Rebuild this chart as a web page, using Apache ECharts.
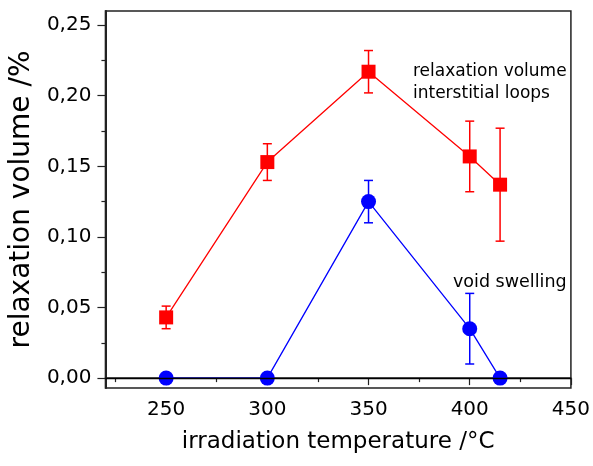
<!DOCTYPE html>
<html><head><meta charset="utf-8">
<script src="https://cdn.jsdelivr.net/npm/echarts@6/dist/echarts.min.js"></script>
<style>html,body{margin:0;padding:0;background:#fff}#c{width:593px;height:466px}</style>
</head><body><div id="c"></div>
<script>
const temps = [250, 300, 350, 400, 415];
const relaxVol = [0.043, 0.153, 0.217, 0.157, 0.137];
const relaxErr = [0.008, 0.013, 0.015, 0.025, 0.040];
const voidSwell = [0, 0, 0.125, 0.035, 0];
const voidErr = [0, 0, 0.015, 0.025, 0];
const yMajorTicks = [0, 0.05, 0.10, 0.15, 0.20, 0.25];
const yMinorTicks = [0.025, 0.075, 0.125, 0.175, 0.225];
const xMajorTicks = [250, 300, 350, 400, 450];
const xMinorTicks = [225, 275, 325, 375, 425];
const xTitle = 'irradiation temperature /°C';
const yTitle = 'relaxation volume /%';
const annRelax = ['relaxation volume', 'interstitial loops'];
const annVoid = 'void swelling';

const FONT = 'DejaVu Sans';
const chart = echarts.init(document.getElementById('c'), null, {renderer: 'canvas'});

function errRender(color) {
  return function (params, api) {
    const x = api.value(0), lo = api.value(1), hi = api.value(2);
    if (hi - lo <= 0) return null;
    const p1 = api.coord([x, hi]), p2 = api.coord([x, lo]);
    const w = 4.5;
    const st = {stroke: color, lineWidth: 1.5};
    return {type: 'group', children: [
      {type: 'line', shape: {x1: p1[0], y1: p1[1], x2: p2[0], y2: p2[1]}, style: st},
      {type: 'line', shape: {x1: p1[0] - w, y1: p1[1], x2: p1[0] + w, y2: p1[1]}, style: st},
      {type: 'line', shape: {x1: p2[0] - w, y1: p2[1], x2: p2[0] + w, y2: p2[1]}, style: st}
    ]};
  };
}

const relaxPts = temps.map((t, i) => [t, relaxVol[i]]);
const voidPts = temps.map((t, i) => [t, voidSwell[i]]);
const relaxErrData = temps.map((t, i) => [t, relaxVol[i] - relaxErr[i], relaxVol[i] + relaxErr[i]]);
const voidErrData = temps.map((t, i) => [t, voidSwell[i] - voidErr[i], voidSwell[i] + voidErr[i]]);

const fmt = v => v.toFixed(2).replace('.', ',');

chart.setOption({
  animation: false,
  backgroundColor: '#fff',
  grid: {left: 104, top: 11, right: 20, bottom: 78, show: true, borderColor: '#222', borderWidth: 1.5, backgroundColor: 'transparent'},
  xAxis: [{
    type: 'value', min: 220, max: 450, position: 'bottom',
    name: xTitle, nameLocation: 'middle', nameGap: 43,
    nameTextStyle: {fontFamily: FONT, fontSize: 23, color: '#000'},
    axisLine: {show: true, lineStyle: {color: '#222', width: 1.5}},
    axisTick: {show: true, customValues: xMajorTicks, length: 7, lineStyle: {color: '#222', width: 1.2}},
    axisLabel: {show: true, customValues: xMajorTicks, margin: 12, fontFamily: FONT, fontSize: 20, color: '#000'},
    splitLine: {show: false}
  }, {
    type: 'value', min: 220, max: 450, position: 'bottom', offset: 0,
    axisLine: {show: false},
    axisTick: {show: true, customValues: xMinorTicks, length: 4, lineStyle: {color: '#222', width: 1.2}},
    axisLabel: {show: false},
    splitLine: {show: false}
  }],
  yAxis: [{
    type: 'value', min: -0.007, max: 0.26, position: 'left',
    name: yTitle, nameLocation: 'middle', nameGap: 63, nameRotate: 90,
    nameTextStyle: {fontFamily: FONT, fontSize: 28, color: '#000'},
    axisLine: {show: true, lineStyle: {color: '#222', width: 2}},
    axisTick: {show: true, customValues: yMajorTicks, length: 8, lineStyle: {color: '#222', width: 1.2}},
    axisLabel: {show: true, customValues: yMajorTicks, margin: 14, formatter: fmt, fontFamily: FONT, fontSize: 20, color: '#000'},
    splitLine: {show: false}
  }, {
    type: 'value', min: -0.007, max: 0.26, position: 'left', offset: 0,
    axisLine: {show: false},
    axisTick: {show: true, customValues: yMinorTicks, length: 4, lineStyle: {color: '#222', width: 1.2}},
    axisLabel: {show: false},
    splitLine: {show: false}
  }],
  series: [{
    type: 'line', data: voidPts, xAxisIndex: 0, yAxisIndex: 0,
    symbol: 'circle', symbolSize: 15,
    lineStyle: {color: '#0000ff', width: 1.3},
    itemStyle: {color: '#0000ff'},
    z: 3,
    markLine: {
      silent: true, symbol: ['none', 'none'], label: {show: false},
      lineStyle: {color: '#000', width: 1.3, type: 'solid'},
      data: [{yAxis: 0}], z: 4
    }
  }, {
    type: 'line', data: relaxPts, xAxisIndex: 0, yAxisIndex: 0,
    symbol: 'rect', symbolSize: 14,
    lineStyle: {color: '#ff0000', width: 1.3},
    itemStyle: {color: '#ff0000'},
    z: 3
  }, {
    type: 'custom', renderItem: errRender('#ff0000'), data: relaxErrData,
    encode: {x: 0, y: [1, 2]}, z: 2
  }, {
    type: 'custom', renderItem: errRender('#0000ff'), data: voidErrData,
    encode: {x: 0, y: [1, 2]}, z: 2
  }],
  graphic: [
    {type: 'text', left: 413, top: 61, style: {text: annRelax.join('\n'), font: '17px "DejaVu Sans"', fill: '#000', lineHeight: 22}},
    {type: 'text', left: 453, top: 273, style: {text: annVoid, font: '17.5px "DejaVu Sans"', fill: '#000'}}
  ]
});
</script></body></html>
